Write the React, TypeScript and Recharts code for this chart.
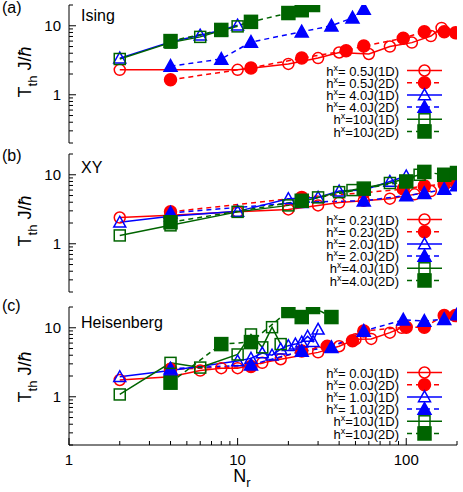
import React from "react";
import { LineChart, Line, XAxis, YAxis } from "recharts";

const FONT = "'Liberation Sans', Arial, Helvetica, sans-serif";
const RED = "#ff0000";
const BLUE = "#0000ff";
const GREEN = "#006400";

// log axis ticks
const xTicks = [1, 2, 3, 4, 5, 6, 7, 8, 9, 10, 20, 30, 40, 50, 60, 70, 80, 90, 100, 200];
const xLabels = [1, 10, 100];
const yTicks = [0.2, 0.3, 0.4, 0.5, 0.6, 0.7, 0.8, 0.9, 1, 2, 3, 4, 5, 6, 7, 8, 9, 10, 20];
const yLabels = [1, 10];

// (a) Ising
const ising05_1d_n = [2, 10, 20, 30, 40, 60, 80, 108, 140, 162];
const ising05_1d_t = [2.3, 2.3, 2.8, 3.4, 4.1, 3.9, 5.0, 5.7, 7.1, 9.3];
const ising05_2d_n = [4, 12, 24, 44, 56, 96, 128, 168, 196];
const ising05_2d_t = [1.65, 2.45, 3.4, 4.35, 5.1, 6.6, 8.2, 8.2, 7.9];
const ising40_1d_n = [2, 4, 6, 8, 10];
const ising40_1d_t = [3.4, 5.8, 7.3, 8.6, 10.2];
const ising40_2d_n = [4, 8, 12, 24, 36, 48, 56];
const ising40_2d_t = [2.6, 3.3, 5.8, 8.2, 10.0, 13.0, 17.5];
const ising10_1d_n = [2, 4, 6, 8, 10];
const ising10_1d_t = [3.3, 5.7, 6.9, 8.5, 9.8];
const ising10_2d_n = [4, 8, 12, 20, 24, 28];
const ising10_2d_t = [6.0, 8.7, 11.4, 15.3, 16.8, 20];
const isingLabels = ["= 0.5J(1D)", "= 0.5J(2D)", "= 4.0J(1D)", "= 4.0J(2D)", "=10J(1D)", "=10J(2D)"];

// (b) XY
const xy02_1d_n = [2, 4, 10, 20, 30, 40, 56, 80, 112, 140];
const xy02_1d_t = [2.4, 2.6, 2.9, 3.15, 3.6, 3.95, 4.2, 4.5, 5.2, 5.8];
const xy02_2d_n = [4, 24, 56, 96, 128, 168, 200];
const xy02_2d_t = [2.9, 4.7, 5.5, 6.2, 6.9, 7.3, 7.6];
const xy20_1d_n = [2, 4, 10, 20, 30, 40, 56, 80, 100];
const xy20_1d_t = [2.05, 2.5, 2.95, 4.5, 4.7, 5.8, 6.0, 8.0, 9.6];
const xy20_2d_n = [4, 24, 56, 100, 128, 168, 200];
const xy20_2d_t = [2.8, 4.0, 4.2, 5.0, 5.4, 6.2, 7.0];
const xy40_1d_n = [2, 4, 10, 20, 30, 40, 48, 80, 120];
const xy40_1d_t = [1.32, 1.85, 2.9, 3.6, 4.7, 5.6, 6.0, 7.6, 10.0];
const xy40_2d_n = [4, 24, 56, 100, 128, 168, 200];
const xy40_2d_t = [2.05, 4.2, 6.3, 8.0, 11.0, 10.0, 10.6];
const xyLabels = ["= 0.2J(1D)", "= 0.2J(2D)", "= 2.0J(1D)", "= 2.0J(2D)", "=4.0J(1D)", "=4.0J(2D)"];

// (c) Heisenberg
const heis00_1d_n = [2, 4, 6, 8, 10, 14, 18, 30, 40, 50, 62, 80, 94];
const heis00_1d_t = [1.75, 1.95, 2.4, 2.6, 2.6, 3.1, 3.5, 4.4, 5.4, 6.8, 6.9, 8.5, 10.0];
const heis00_2d_n = [4, 12, 24, 34, 48, 56, 100, 128, 168, 196];
const heis00_2d_t = [2.5, 2.75, 4.6, 5.4, 6.5, 9.0, 10.2, 10.2, 15.0, 15.0];
const heis10_1d_n = [2, 4, 10, 12, 14, 16, 18, 20, 22, 24, 26, 28, 30];
const heis10_1d_t = [1.95, 2.4, 3.3, 3.6, 4.3, 4.0, 4.9, 5.5, 5.8, 6.2, 7.5, 6.3, 9.5];
const heis10_2d_n = [4, 12, 24, 36, 56, 96, 128, 168, 200];
const heis10_2d_t = [2.55, 2.9, 4.6, 5.2, 9.0, 13.0, 12.5, 13.3, 15.5];
const heis100_1d_n = [2, 4, 6, 10, 12, 14, 16, 18];
const heis100_1d_t = [1.08, 3.1, 2.65, 4.1, 8.0, 5.2, 10.2, 5.8];
const heis100_2d_n = [4, 8, 12, 20, 24, 28, 36];
const heis100_2d_t = [1.6, 5.8, 6.2, 17.5, 14.3, 20, 14.3];
const heisLabels = ["= 0.0J(1D)", "= 0.0J(2D)", "= 1.0J(1D)", "= 1.0J(2D)", "=10J(1D)", "=10J(2D)"];

type Pt = { n: number; t: number };
type Shape = "circle" | "triangle" | "square";
interface Series {
  label: string;
  color: string;
  shape: Shape;
  filled: boolean;
  data: Pt[];
}

const pts = (n: number[], t: number[]): Pt[] => n.map((v, i) => ({ n: v, t: t[i] }));

const styles: { color: string; shape: Shape; filled: boolean }[] = [
  { color: RED, shape: "circle", filled: false },
  { color: RED, shape: "circle", filled: true },
  { color: BLUE, shape: "triangle", filled: false },
  { color: BLUE, shape: "triangle", filled: true },
  { color: GREEN, shape: "square", filled: false },
  { color: GREEN, shape: "square", filled: true },
];

const build = (labels: string[], data: Pt[][]): Series[] =>
  data.map((d, i) => ({ ...styles[i], label: labels[i], data: d }));

const panels = [
  {
    tag: "(a)",
    name: "Ising",
    top: 0,
    series: build(isingLabels, [
      pts(ising05_1d_n, ising05_1d_t),
      pts(ising05_2d_n, ising05_2d_t),
      pts(ising40_1d_n, ising40_1d_t),
      pts(ising40_2d_n, ising40_2d_t),
      pts(ising10_1d_n, ising10_1d_t),
      pts(ising10_2d_n, ising10_2d_t),
    ]),
  },
  {
    tag: "(b)",
    name: "XY",
    top: 149,
    series: build(xyLabels, [
      pts(xy02_1d_n, xy02_1d_t),
      pts(xy02_2d_n, xy02_2d_t),
      pts(xy20_1d_n, xy20_1d_t),
      pts(xy20_2d_n, xy20_2d_t),
      pts(xy40_1d_n, xy40_1d_t),
      pts(xy40_2d_n, xy40_2d_t),
    ]),
  },
  {
    tag: "(c)",
    name: "Heisenberg",
    top: 300,
    series: build(heisLabels, [
      pts(heis00_1d_n, heis00_1d_t),
      pts(heis00_2d_n, heis00_2d_t),
      pts(heis10_1d_n, heis10_1d_t),
      pts(heis10_2d_n, heis10_2d_t),
      pts(heis100_1d_n, heis100_1d_t),
      pts(heis100_2d_n, heis100_2d_t),
    ]),
  },
];

function Marker({ cx, cy, shape, filled, color }: any) {
  if (cx == null || cy == null) return null;
  const fill = filled ? color : "none";
  const sw = 1.5;
  if (shape === "circle") {
    return <circle cx={cx} cy={cy} r={filled ? 6 : 5.5} fill={fill} stroke={color} strokeWidth={sw} />;
  }
  if (shape === "triangle") {
    const s = filled ? 6.5 : 6;
    return (
      <polygon
        points={`${cx},${cy - s} ${cx - s},${cy + s * 0.8} ${cx + s},${cy + s * 0.8}`}
        fill={fill}
        stroke={color}
        strokeWidth={sw}
        strokeLinejoin="miter"
      />
    );
  }
  const h = filled ? 6.5 : 5.5;
  return <rect x={cx - h} y={cy - h} width={2 * h} height={2 * h} fill={fill} stroke={color} strokeWidth={sw} />;
}

const M = 8; // tick margin
const isMajor = (v: number, list: number[]) => list.indexOf(v) >= 0;

// gnuplot-style inward ticks; label only on majors
function Tick({ x, y, payload, side, show }: any) {
  const v = payload.value;
  const major = isMajor(v, side === "left" || side === "right" ? yLabels : xLabels);
  const len = major ? 7 : 4;
  let line;
  let label = null;
  if (side === "left") {
    const ax = x + M;
    line = <line x1={ax} x2={ax + len} y1={y} y2={y} stroke="#000" />;
    if (major && show)
      label = (
        <text x={x} y={y} textAnchor="end" dominantBaseline="central" fontSize={15} fontFamily={FONT} fill="#000">
          {v}
        </text>
      );
  } else if (side === "right") {
    const ax = x - M;
    line = <line x1={ax} x2={ax - len} y1={y} y2={y} stroke="#000" />;
  } else if (side === "top") {
    const ay = y + M;
    line = <line x1={x} x2={x} y1={ay} y2={ay + len} stroke="#000" />;
  } else {
    const ay = y - M;
    line = <line x1={x} x2={x} y1={ay} y2={ay - len} stroke="#000" />;
    if (major && show)
      label = (
        <text x={x} y={y + 1} textAnchor="middle" dominantBaseline="hanging" fontSize={15} fontFamily={FONT} fill="#000">
          {v}
        </text>
      );
  }
  return (
    <g>
      {line}
      {label}
    </g>
  );
}

function Panel({ series, top, showX }: { series: Series[]; top: number; showX: boolean }) {
  const height = showX ? 192 : 146;
  return (
    <div style={{ position: "absolute", left: 0, top }}>
      <LineChart width={463} height={height} margin={{ top: showX ? 7 : 5, right: 6, bottom: showX ? 0 : 3, left: 0 }}>
        <XAxis
          dataKey="n"
          type="number"
          scale="log"
          domain={[1, 200]}
          allowDataOverflow
          ticks={xTicks}
          interval={0}
          height={showX ? 47 : 0}
          tickSize={0}
          tickMargin={M}
          tickLine={false}
          axisLine={{ stroke: "#000" }}
          tick={(p: any) => <Tick {...p} side="bottom" show={showX} />}
        />
        <XAxis
          xAxisId="t"
          orientation="top"
          dataKey="n"
          type="number"
          scale="log"
          domain={[1, 200]}
          allowDataOverflow
          ticks={xTicks}
          interval={0}
          height={0}
          tickSize={0}
          tickMargin={M}
          tickLine={false}
          axisLine={{ stroke: "#000" }}
          tick={(p: any) => <Tick {...p} side="top" />}
        />
        <YAxis
          dataKey="t"
          type="number"
          scale="log"
          domain={[0.2, 20]}
          allowDataOverflow
          ticks={yTicks}
          interval={0}
          width={69}
          tickSize={0}
          tickMargin={M}
          tickLine={false}
          axisLine={{ stroke: "#000" }}
          tick={(p: any) => <Tick {...p} side="left" show />}
        />
        <YAxis
          yAxisId="r"
          orientation="right"
          dataKey="t"
          type="number"
          scale="log"
          domain={[0.2, 20]}
          allowDataOverflow
          ticks={yTicks}
          interval={0}
          width={0}
          tickSize={0}
          tickMargin={M}
          tickLine={false}
          axisLine={{ stroke: "#000" }}
          tick={(p: any) => <Tick {...p} side="right" />}
        />
        {series.map((s, i) => (
          <Line
            key={i}
            data={s.data}
            dataKey="t"
            stroke={s.color}
            strokeWidth={1.5}
            strokeDasharray={s.filled ? "5 4" : undefined}
            isAnimationActive={false}
            activeDot={false}
            dot={(p: any) => (
              <Marker key={`m${i}-${p.index}`} cx={p.cx} cy={p.cy} shape={s.shape} filled={s.filled} color={s.color} />
            )}
          />
        ))}
      </LineChart>
    </div>
  );
}

function Legend({ series, top }: { series: Series[]; top: number }) {
  return (
    <g>
      {series.map((s, i) => {
        const y = top + 65.5 + 12.2 * i;
        return (
          <g key={i}>
            <text x={399} y={y + 5} textAnchor="end" fontSize={13} fontFamily={FONT} fill="#000">
              h
              <tspan dy={-5} fontSize={9}>
                x
              </tspan>
              <tspan dy={5}>{s.label}</tspan>
            </text>
            <line
              x1={407}
              x2={442}
              y1={y}
              y2={y}
              stroke={s.color}
              strokeWidth={1.5}
              strokeDasharray={s.filled ? "5 4" : undefined}
            />
            <Marker cx={424.5} cy={y} shape={s.shape} filled={s.filled} color={s.color} />
          </g>
        );
      })}
    </g>
  );
}

const plotTops = [5, 154, 307];
const tagBase = [13, 161, 311];
const nameBase = [21, 173, 328];
const ylabCenter = [72, 221, 377];

export default function App() {
  return (
    <div style={{ position: "absolute", left: 0, top: 0, width: 463, height: 492, background: "#fff", fontFamily: FONT }}>
      {panels.map((p, i) => (
        <Panel key={p.tag} series={p.series} top={p.top} showX={i === 2} />
      ))}
      <svg width={463} height={492} style={{ position: "absolute", left: 0, top: 0, pointerEvents: "none" }}>
        {panels.map((p, i) => (
          <g key={p.tag}>
            <text x={2} y={tagBase[i]} fontSize={16} fontFamily={FONT} fill="#000">
              {p.tag}
            </text>
            <text x={81} y={nameBase[i]} fontSize={16} fontFamily={FONT} fill="#000">
              {p.name}
            </text>
            <text
              transform={`translate(31, ${ylabCenter[i]}) rotate(-90)`}
              textAnchor="middle"
              fontSize={18}
              fontFamily={FONT}
              fill="#000"
            >
              T
              <tspan dy={6} fontSize={13}>
                th
              </tspan>
              <tspan dy={-6}> J/</tspan>
              <tspan fontStyle="italic">ħ</tspan>
            </text>
            <Legend series={p.series} top={plotTops[i]} />
          </g>
        ))}
        <text x={242} y={482} textAnchor="middle" fontSize={18} fontFamily={FONT} fill="#000">
          N
          <tspan dy={5} fontSize={13}>
            r
          </tspan>
        </text>
      </svg>
    </div>
  );
}
